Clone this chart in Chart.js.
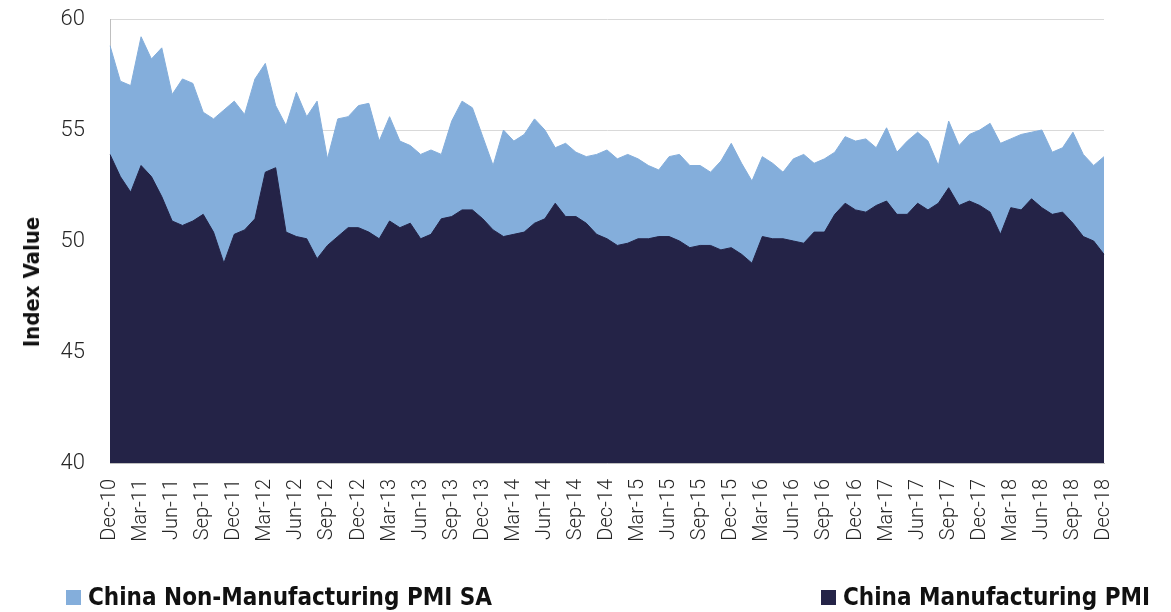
<!DOCTYPE html>
<html>
<head>
<meta charset="utf-8">
<script src="https://cdn.jsdelivr.net/npm/chart.js@4.4.1/dist/chart.umd.min.js"></script>
<style>
  html, body { margin: 0; padding: 0; background: #fff; }
  #wrap { position: relative; width: 1171px; height: 612px; }
  #legend { position: absolute; left: 0; top: 583px; width: 1171px; height: 29px;
            font-family: "DejaVu Sans Condensed", "DejaVu Sans", sans-serif; font-weight: bold;
            font-size: 24px; color: #111; }
  .item { position: absolute; top: 0; display: flex; align-items: center; white-space: nowrap; }
  .box { width: 15px; height: 15px; margin-right: 7px; }
  #yTitle { position: absolute; left: 32px; top: 282px; transform: translate(-50%, -50%) rotate(-90deg);
            font-family: "DejaVu Sans Condensed", "DejaVu Sans", sans-serif; font-weight: bold;
            font-size: 22px; color: #111; white-space: nowrap; line-height: 1; }
</style>
</head>
<body>
<div id="wrap">
  <canvas id="pmiChart" width="1171" height="612"></canvas>
  <div id="yTitle">Index Value</div>
  <div id="legend">
    <div class="item" style="left:66px"><span class="box" style="background:#84aedb"></span>China Non-Manufacturing PMI SA</div>
    <div class="item" style="left:821px"><span class="box" style="background:#242347"></span>China Manufacturing PMI</div>
  </div>
</div>
<script>
// monthly, Dec-10 .. Dec-18
const monthNames = ["Jan","Feb","Mar","Apr","May","Jun","Jul","Aug","Sep","Oct","Nov","Dec"];
const months = [];
for (let y = 2010; y <= 2018; y++) {
  for (let m = 0; m < 12; m++) {
    if (y === 2010 && m < 11) continue;
    months.push(monthNames[m] + "-" + String(y).slice(2));
  }
}

const nonManufacturing = [
  58.8, 57.2, 57.0, 59.2, 58.2, 58.7, 56.6, 57.3, 57.1, 55.8, 55.5, 55.9,
  56.3, 55.7, 57.3, 58.0, 56.1, 55.2, 56.7, 55.6, 56.3, 53.7, 55.5, 55.6,
  56.1, 56.2, 54.5, 55.6, 54.5, 54.3, 53.9, 54.1, 53.9, 55.4, 56.3, 56.0,
  54.7, 53.4, 55.0, 54.5, 54.8, 55.5, 55.0, 54.2, 54.4, 54.0, 53.8, 53.9,
  54.1, 53.7, 53.9, 53.7, 53.4, 53.2, 53.8, 53.9, 53.4, 53.4, 53.1, 53.6,
  54.4, 53.5, 52.7, 53.8, 53.5, 53.1, 53.7, 53.9, 53.5, 53.7, 54.0, 54.7,
  54.5, 54.6, 54.2, 55.1, 54.0, 54.5, 54.9, 54.5, 53.4, 55.4, 54.3, 54.8,
  55.0, 55.3, 54.4, 54.6, 54.8, 54.9, 55.0, 54.0, 54.2, 54.9, 53.9, 53.4, 53.8
];

const manufacturing = [
  53.9, 52.9, 52.2, 53.4, 52.9, 52.0, 50.9, 50.7, 50.9, 51.2, 50.4, 49.0,
  50.3, 50.5, 51.0, 53.1, 53.3, 50.4, 50.2, 50.1, 49.2, 49.8, 50.2, 50.6,
  50.6, 50.4, 50.1, 50.9, 50.6, 50.8, 50.1, 50.3, 51.0, 51.1, 51.4, 51.4,
  51.0, 50.5, 50.2, 50.3, 50.4, 50.8, 51.0, 51.7, 51.1, 51.1, 50.8, 50.3,
  50.1, 49.8, 49.9, 50.1, 50.1, 50.2, 50.2, 50.0, 49.7, 49.8, 49.8, 49.6,
  49.7, 49.4, 49.0, 50.2, 50.1, 50.1, 50.0, 49.9, 50.4, 50.4, 51.2, 51.7,
  51.4, 51.3, 51.6, 51.8, 51.2, 51.2, 51.7, 51.4, 51.7, 52.4, 51.6, 51.8,
  51.6, 51.3, 50.3, 51.5, 51.4, 51.9, 51.5, 51.2, 51.3, 50.8, 50.2, 50.0, 49.4
];

const yTicks = [40, 45, 50, 55, 60];

const lightFont = "Roboto, 'DejaVu Sans', sans-serif";

new Chart(document.getElementById("pmiChart"), {
  type: "line",
  data: {
    labels: months,
    datasets: [
      {
        label: "China Manufacturing PMI",
        data: manufacturing,
        backgroundColor: "#242347",
        borderColor: "#242347",
        borderWidth: 1,
        pointRadius: 0,
        fill: "start",
        tension: 0
      },
      {
        label: "China Non-Manufacturing PMI SA",
        data: nonManufacturing,
        backgroundColor: "#84aedb",
        borderColor: "#84aedb",
        borderWidth: 1,
        pointRadius: 0,
        fill: "start",
        tension: 0
      }
    ]
  },
  options: {
    responsive: false,
    animation: false,
    layout: { padding: { top: 19, right: 67, left: 0, bottom: 0 } },
    plugins: {
      legend: { display: false },
      tooltip: { enabled: false }
    },
    scales: {
      x: {
        offset: false,
        grid: { display: false, drawTicks: false },
        border: { display: true, color: "#bfbfbf" },
        ticks: {
          autoSkip: false,
          maxRotation: 90,
          minRotation: 90,
          padding: 16,
          color: "#262626",
          font: { family: lightFont, size: 20, weight: 300 },
          callback: function (v, i) { return i % 3 === 0 ? months[i] : ""; }
        },
        afterFit: function (scale) { scale.height = 149; }
      },
      y: {
        min: 40,
        max: 60,
        afterBuildTicks: function (scale) { scale.ticks = yTicks.map(v => ({ value: v })); },
        grid: { color: "#d9d9d9", drawTicks: false },
        border: { display: true, color: "#bfbfbf" },
        ticks: {
          padding: 25,
          color: "#262626",
          font: { family: lightFont, size: 22, weight: 300 }
        },
        afterFit: function (scale) {
          scale.width = 110;
          // plot edges are fixed by the layout padding instead
          scale.paddingTop = 0;
          scale.paddingBottom = 0;
        }
      }
    }
  }
});
</script>
</body>
</html>
